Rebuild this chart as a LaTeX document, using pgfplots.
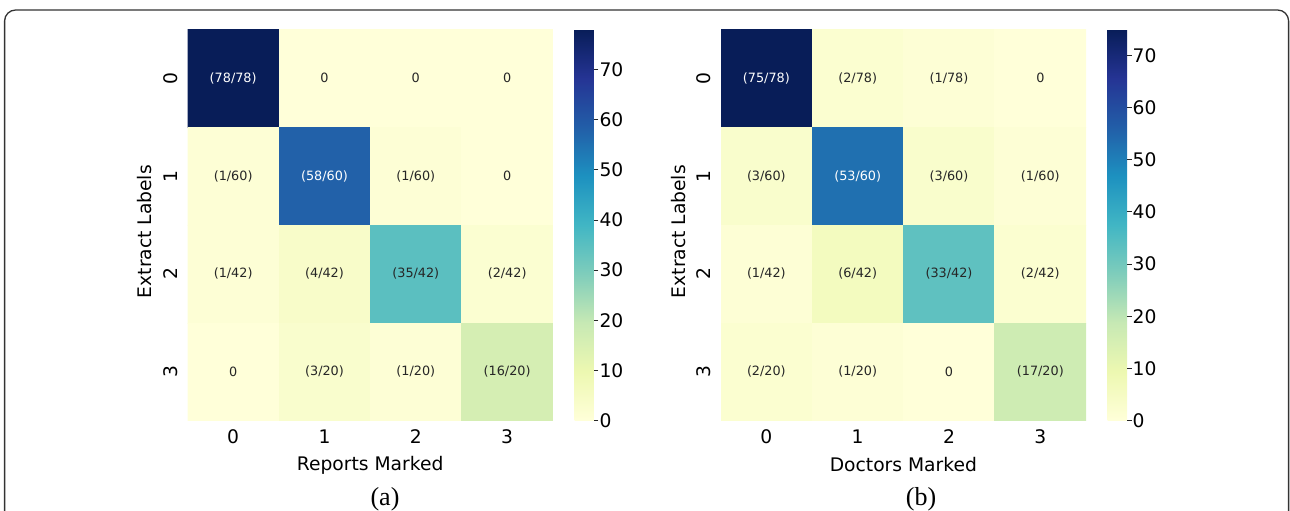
\documentclass[border=0pt]{standalone}
\usepackage{fontspec}
\setmainfont{DejaVu Sans}
\newfontfamily\capfont{Liberation Serif}
\usepackage{pgfplots}
\pgfplotsset{compat=1.18}
\definecolor{annodark}{gray}{0.15}
\definecolor{framecol}{gray}{0.2}
\newcommand{\lblfont}{\fontsize{18.7}{22}\selectfont}
\newcommand{\cellfont}{\fontsize{12.8}{15}\selectfont}
\pgfplotsset{
  colormap={ylgnbu}{rgb255=(255,255,217) rgb255=(237,248,177) rgb255=(199,233,180) rgb255=(127,205,187) rgb255=(65,182,196) rgb255=(29,145,192) rgb255=(34,94,168) rgb255=(37,52,148) rgb255=(8,29,88)},
  hm/.style={
    scale only axis, width=365.3pt, height=391.4pt, anchor=south west,
    xmin=-0.5, xmax=3.5, ymin=-0.5, ymax=3.5, y dir=reverse,
    enlargelimits=false,
    axis line style={draw=none},
    major tick length=0pt, tick style={draw=none},
    xtick={0,1,2,3}, ytick={0,1,2,3},
    /pgf/number format/assume math mode=true,
    ticklabel style={font=\lblfont, text=black},
    xticklabel style={anchor=center, yshift=-16pt},
    yticklabel style={anchor=center, xshift=-17pt, rotate=90},
    label style={font=\lblfont},
    xlabel style={at={(axis description cs:0.5,-0.1132)}, anchor=center},
    ylabel style={at={(axis description cs:-0.1163,0.483)}, anchor=center},
    colormap name=ylgnbu,
    colorbar right,
    colorbar/width=19.3pt,
    colorbar style={
      scale only axis,
      at={(parent axis.north east)}, anchor=north west, xshift=13.2pt,
      width=19.3pt,
      ytick={0,10,...,70},
      ytick pos=right,
      axis line style={draw=none},
      tick align=outside,
      major tick length=4.5pt,
      tick style={draw=black!85, line width=0.9pt},
      /pgf/number format/assume math mode=true,
      yticklabel style={font=\lblfont, inner xsep=1pt, text=black},
    },
  },
  anno/.style={only marks, mark=none, nodes near coords, point meta=explicit symbolic,
    nodes near coords style={anchor=center, font=\cellfont, text=#1}},
}
\begin{document}
\begin{tikzpicture}
\useasboundingbox (0pt,0pt) rectangle (1290pt,511pt);
\draw[framecol, line width=1.3pt, rounded corners=11pt] (4.6pt,-30pt) rectangle (1288.6pt,501pt);

\begin{axis}[hm, at={(187.5pt,90.3pt)}, xlabel={Reports Marked}, ylabel={Extract Labels},
  point meta min=0, point meta max=78]
\addplot[matrix plot*, mesh/cols=4, point meta=explicit] table[meta=c]{
x y c
0 0 78
1 0 0
2 0 0
3 0 0
0 1 1
1 1 58
2 1 1
3 1 0
0 2 1
1 2 4
2 2 35
3 2 2
0 3 0
1 3 3
2 3 1
3 3 16
};
\addplot[anno=annodark] table[meta=lab]{
x y lab
1 0 0
2 0 0
3 0 0
0 1 (1/60)
2 1 (1/60)
3 1 0
0 2 (1/42)
1 2 (4/42)
2 2 (35/42)
3 2 (2/42)
0 3 0
1 3 (3/20)
2 3 (1/20)
3 3 (16/20)
};
\addplot[anno=white] table[meta=lab]{
x y lab
0 0 (78/78)
1 1 (58/60)
};
\end{axis}

\begin{axis}[hm, at={(720.7pt,90.3pt)}, xlabel={Doctors Marked}, ylabel={Extract Labels},
  point meta min=0, point meta max=75]
\addplot[matrix plot*, mesh/cols=4, point meta=explicit] table[meta=c]{
x y c
0 0 75
1 0 2
2 0 1
3 0 0
0 1 3
1 1 53
2 1 3
3 1 1
0 2 1
1 2 6
2 2 33
3 2 2
0 3 2
1 3 1
2 3 0
3 3 17
};
\addplot[anno=annodark] table[meta=lab]{
x y lab
1 0 (2/78)
2 0 (1/78)
3 0 0
0 1 (3/60)
2 1 (3/60)
3 1 (1/60)
0 2 (1/42)
1 2 (6/42)
2 2 (33/42)
3 2 (2/42)
0 3 (2/20)
1 3 (1/20)
2 3 0
3 3 (17/20)
};
\addplot[anno=white] table[meta=lab]{
x y lab
0 0 (75/78)
1 1 (53/60)
};
\end{axis}

\node[font=\capfont\fontsize{26}{30}\selectfont, anchor=center] at (385pt,12pt) {(a)};
\node[font=\capfont\fontsize{26}{30}\selectfont, anchor=center] at (921pt,12pt) {(b)};
\end{tikzpicture}
\end{document}
